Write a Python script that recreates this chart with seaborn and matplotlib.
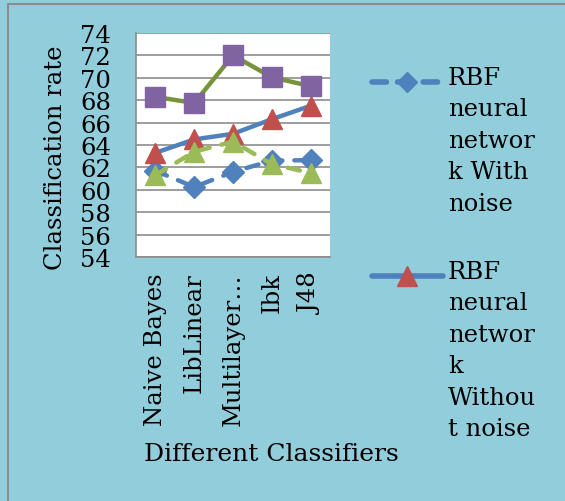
import matplotlib
matplotlib.use("Agg")
import matplotlib.pyplot as plt
import seaborn as sns
import pandas as pd
from matplotlib.lines import Line2D

classifiers = ["Naive Bayes", "LibLinear", "Multilayer…", "Ibk", "J48"]
rbf_with_noise = [61.7, 60.25, 61.6, 62.6, 62.65]
rbf_without_noise = [63.3, 64.5, 65.0, 66.3, 67.5]
series3 = [61.3, 63.4, 64.3, 62.3, 61.5]
series4 = [68.3, 67.75, 72.0, 70.05, 69.25]
yticks = [54, 56, 58, 60, 62, 64, 66, 68, 70, 72, 74]
legend_labels = ["RBF\nneural\nnetwor\nk With\nnoise",
                 "RBF\nneural\nnetwor\nk\nWithou\nt noise"]

sns.set_style("white")
plt.rcParams["font.family"] = ["DejaVu Serif"]
plt.rcParams["text.color"] = "black"
plt.rcParams["xtick.color"] = "black"
plt.rcParams["ytick.color"] = "black"

BG = "#92CDDC"
GRID = "#8C8C8C"

fig = plt.figure(figsize=(5.65, 5.02), dpi=100, facecolor=BG)
ax = fig.add_axes([136/565, 1-258/502, (330-136)/565, (258-34)/502])
ax.set_facecolor("white")

df = pd.DataFrame({"cls": classifiers * 4,
                   "val": rbf_with_noise + rbf_without_noise + series3 + series4,
                   "s": ["a"]*5 + ["b"]*5 + ["c"]*5 + ["d"]*5})

styles = {
    "a": dict(color="#4F81BD", marker="D", mfc="#4F81BD", mec="#4F81BD", ms=11, dashes=(2.8, 2.7)),
    "b": dict(color="#4F81BD", marker="^", mfc="#C0504D", mec="#C0504D", ms=15, dashes=None),
    "c": dict(color="#9BBB59", marker="^", mfc="#9BBB59", mec="#9BBB59", ms=15, dashes=(2.8, 2.7)),
    "d": dict(color="#77933C", marker="s", mfc="#8064A2", mec="#8064A2", ms=14, dashes=None),
}
for key in ["a", "b", "c", "d"]:
    st = styles[key]
    sub = df[df["s"] == key]
    sns.lineplot(data=sub, x="cls", y="val", ax=ax, sort=False, color=st["color"],
                 lw=3.2, marker=st["marker"], markersize=st["ms"],
                 markerfacecolor=st["mfc"], markeredgecolor=st["mec"],
                 markeredgewidth=1, legend=False, zorder=3)
    line = ax.get_lines()[-1]
    line.set_solid_capstyle("round")
    line.set_dash_capstyle("round")
    if st["dashes"]:
        line.set_dashes(st["dashes"])

ax.set_xlim(-0.5, 4.5)
ax.set_ylim(54, 74)
ax.set_yticks(yticks)
ax.set_yticklabels([str(v) for v in yticks], fontsize=17.5)
ax.yaxis.grid(True, color=GRID, lw=1.2)
ax.set_axisbelow(True)
ax.set_xticks(range(5))
ax.set_xticklabels(classifiers, rotation=90, fontsize=17.5, va="top", ha="center")
ax.set_xticks([i - 0.5 for i in range(6)], minor=True)
ax.tick_params(axis="x", which="major", length=0, pad=11)
ax.tick_params(axis="x", which="minor", length=6, width=1.2, color=GRID, direction="out")
ax.tick_params(axis="y", length=6, width=1.2, color=GRID, labelcolor="black", direction="out", pad=12)
for sp in ["top", "right"]:
    ax.spines[sp].set_visible(False)
for sp in ["left", "bottom"]:
    ax.spines[sp].set_color(GRID)
    ax.spines[sp].set_linewidth(1.2)
ax.set_xlabel("")
ax.set_ylabel("")

fig.text(56/565, 1-158/502, "Classification rate", rotation=90, fontsize=17.5,
         ha="center", va="center")
fig.text(271/565, 1-455/502, "Different Classifiers", fontsize=18,
         ha="center", va="center")

# legend
def legend_entry(y, label, key):
    st = styles[key]
    ln = Line2D([372/565, 443/565], [1-y/502, 1-y/502], transform=fig.transFigure,
                color=st["color"], lw=4, solid_capstyle="round", dash_capstyle="round")
    if st["dashes"]:
        ln.set_dashes((2.6, 2.0))
    fig.add_artist(ln)
    mk = Line2D([407/565], [1-y/502], transform=fig.transFigure, marker=st["marker"],
                ms=st["ms"]*0.95, mfc=st["mfc"], mec=st["mec"], lw=0)
    fig.add_artist(mk)
    fig.text(448/565, 1-(y-16)/502, label, fontsize=17.5, ha="left", va="top",
             linespacing=1.47)

legend_entry(83, legend_labels[0], "a")
legend_entry(277, legend_labels[1], "b")

# outer border (left and top visible)
fig.add_artist(Line2D([8/565, 8/565], [0, 1-5/502], transform=fig.transFigure, color="#8C8C8C", lw=1.5))
fig.add_artist(Line2D([8/565, 1], [1-5/502, 1-5/502], transform=fig.transFigure, color="#8C8C8C", lw=1.5))

fig.savefig("out.png", dpi=100, facecolor=BG)
